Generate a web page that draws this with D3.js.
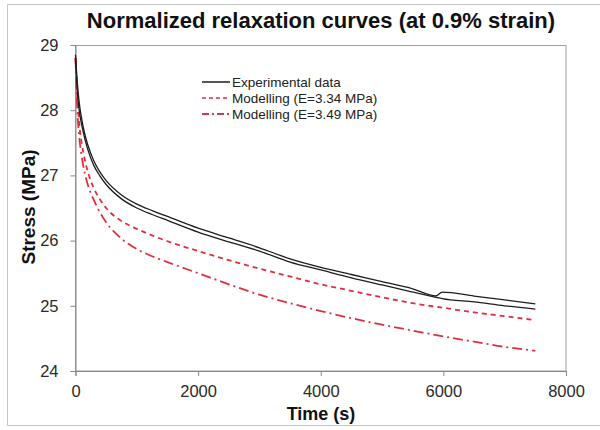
<!DOCTYPE html>
<html>
<head>
<meta charset="utf-8">
<script src="https://cdn.jsdelivr.net/npm/d3@7"></script>
<style>
  body { margin: 0; background: #fff; }
  text { font-family: "Liberation Sans", Arial, sans-serif; }
</style>
</head>
<body>
<script>
// time in seconds
const times = [0, 30, 60, 100, 150, 200, 300, 400, 500, 750, 1000, 1250, 1500, 2000, 2500,
  3000, 3500, 4000, 4500, 5000, 5500, 5880, 5980, 6500, 7000, 7500];
// two experimental runs (same style, one legend entry)
const exp1 = [28.85, 28.42, 28.12, 27.87, 27.64, 27.47, 27.22, 27.05, 26.92, 26.7, 26.56, 26.46, 26.37,
  26.19, 26.04, 25.89, 25.72, 25.59, 25.48, 25.37, 25.26, 25.15, 25.21, 25.15, 25.09, 25.03];
const exp2 = [28.8, 28.3, 28.0, 27.78, 27.57, 27.4, 27.15, 26.99, 26.86, 26.64, 26.5, 26.4, 26.31,
  26.13, 25.98, 25.84, 25.67, 25.55, 25.43, 25.32, 25.21, 25.13, 25.11, 25.06, 25.0, 24.95];

const modelTimes = [0, 30, 60, 100, 150, 200, 300, 400, 500, 750, 1000, 1250, 1500, 2000, 2500,
  3000, 3500, 4000, 4500, 5000, 5500, 6000, 6500, 7000, 7500];
const model334 = [28.8, 28.2, 27.8, 27.5, 27.25, 27.06, 26.8, 26.63, 26.5, 26.3, 26.18, 26.08, 25.99,
  25.84, 25.7, 25.57, 25.45, 25.33, 25.23, 25.13, 25.04, 24.97, 24.9, 24.84, 24.78];
const model349 = [28.8, 28.0, 27.6, 27.3, 27.04, 26.86, 26.62, 26.43, 26.28, 26.03, 25.87, 25.76, 25.67,
  25.5, 25.33, 25.17, 25.04, 24.92, 24.81, 24.71, 24.62, 24.53, 24.45, 24.37, 24.31];

const xTicks = [0, 2000, 4000, 6000, 8000];
const yTicks = [24, 25, 26, 27, 28, 29];
const legendLabels = ["Experimental data", "Modelling (E=3.34 MPa)", "Modelling (E=3.49 MPa)"];

const svg = d3.select("body").append("svg")
  .attr("width", 600)
  .attr("height", 430);

svg.append("rect").attr("width", 600).attr("height", 430).attr("fill", "#fff");

// outer frame of the picture
svg.append("path")
  .attr("d", "M 602 4.5 H 7.5 V 425.5 H 602")
  .attr("stroke", "#c4c4c4")
  .attr("fill", "none");

const x = d3.scaleLinear().domain([0, 8000]).range([75.5, 566]);
const y = d3.scaleLinear().domain([24, 29]).range([371, 45]);

// plot area box
svg.append("rect")
  .attr("x", 75.5).attr("y", 45.5)
  .attr("width", 490.5).attr("height", 325.5)
  .attr("fill", "none")
  .attr("stroke", "#a0a0a0");

const xAxis = svg.append("g")
  .attr("transform", "translate(0,371)")
  .call(d3.axisBottom(x).tickValues(xTicks).tickFormat(d3.format("d")).tickSize(5).tickPadding(9));
const yAxis = svg.append("g")
  .attr("transform", "translate(75.5,0)")
  .call(d3.axisLeft(y).tickValues(yTicks).tickFormat(d3.format("d")).tickSize(5).tickPadding(12));

[xAxis, yAxis].forEach(g => {
  g.select(".domain").attr("stroke", "#888");
  g.selectAll(".tick line").attr("stroke", "#888");
  g.selectAll(".tick text")
    .attr("fill", "#2a2a2a")
    .style("font-size", "16.5px")
    .style("font-family", "'Liberation Sans', Arial, sans-serif");
});

const line = d3.line().curve(d3.curveMonotoneX);

function series(ts, vs) {
  return ts.map((t, i) => [x(t), y(vs[i])]);
}

svg.append("path")
  .attr("d", line(series(modelTimes, model349)))
  .attr("fill", "none")
  .attr("stroke", "#e0303e")
  .attr("stroke-width", 1.8)
  .attr("stroke-dasharray", "10,4,2,4");

svg.append("path")
  .attr("d", line(series(modelTimes, model334)))
  .attr("fill", "none")
  .attr("stroke", "#e0303e")
  .attr("stroke-width", 1.8)
  .attr("stroke-dasharray", "5,4");

[exp1, exp2].forEach(vs => {
  svg.append("path")
    .attr("d", line(series(times, vs)))
    .attr("fill", "none")
    .attr("stroke", "#1e1e1e")
    .attr("stroke-width", 1.3);
});

// legend
const legendStyles = [
  { stroke: "#1e1e1e", dash: null, w: 1.5 },
  { stroke: "#e0303e", dash: "4,3", w: 1.5 },
  { stroke: "#c0405a", dash: "7,3,2,3", w: 2 }
];
const lg = svg.append("g").attr("transform", "translate(202,82)");
legendLabels.forEach((lab, i) => {
  const row = lg.append("g").attr("transform", `translate(0,${i * 16})`);
  row.append("line")
    .attr("x1", 0).attr("x2", 28).attr("y1", 0).attr("y2", 0)
    .attr("stroke", legendStyles[i].stroke)
    .attr("stroke-width", legendStyles[i].w)
    .attr("stroke-dasharray", legendStyles[i].dash);
  row.append("text")
    .attr("x", 30).attr("y", 5)
    .attr("font-size", 13.5)
    .attr("fill", "#222")
    .text(lab);
});

// titles
svg.append("text")
  .attr("x", 321).attr("y", 28)
  .attr("text-anchor", "middle")
  .attr("font-size", 22)
  .attr("font-weight", "bold")
  .attr("fill", "#111")
  .text("Normalized relaxation curves (at 0.9% strain)");

svg.append("text")
  .attr("x", 321).attr("y", 420)
  .attr("text-anchor", "middle")
  .attr("font-size", 18)
  .attr("font-weight", "bold")
  .attr("fill", "#111")
  .text("Time (s)");

svg.append("text")
  .attr("transform", "translate(35,207) rotate(-90)")
  .attr("text-anchor", "middle")
  .attr("font-size", 19)
  .attr("font-weight", "bold")
  .attr("fill", "#111")
  .text("Stress (MPa)");
</script>
</body>
</html>
